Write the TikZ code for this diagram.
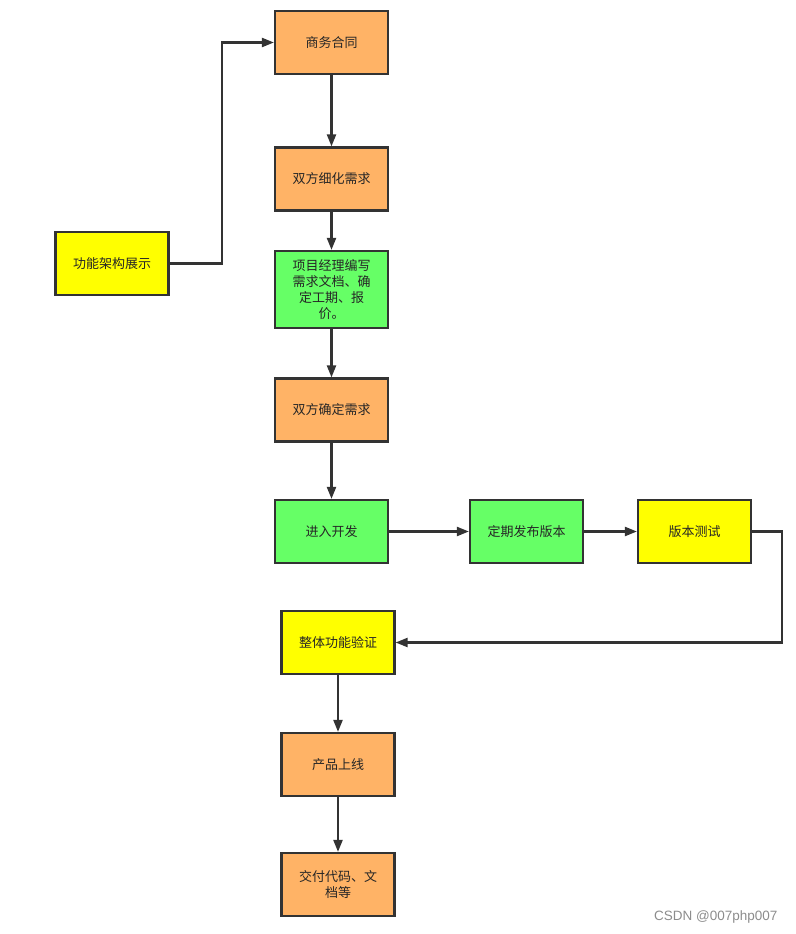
\documentclass[tikz,border=0pt]{standalone}
\usepackage{fontspec}
\newfontfamily\cjk{Noto Sans CJK SC}
\setmainfont{Liberation Sans}
\usetikzlibrary{arrows.meta}
\definecolor{orangebox}{HTML}{FFB366}
\definecolor{greenbox}{HTML}{66FF66}
\definecolor{yellowbox}{HTML}{FFFF00}
\definecolor{edgecol}{HTML}{333333}
\begin{document}
\begin{tikzpicture}[x=1pt,y=-1pt,
  boxbase/.style={draw=edgecol,line width=2.2pt,minimum width=113pt,minimum height=63pt,inner sep=0pt,align=center,font=\cjk\fontsize{13}{16}\selectfont,text=black!85},
  obox/.style={boxbase,fill=orangebox},
  gbox/.style={boxbase,fill=greenbox},
  ybox/.style={boxbase,fill=yellowbox},
  conn/.style={draw=edgecol,line width=2.2pt,-{Triangle[length=12pt,width=9pt]}}]
\useasboundingbox (0,0) rectangle (795,934);
\node[obox] (a) at (331.5,42.5) {商务合同};
\node[obox] (b) at (331.5,179) {双方细化需求};
\node[gbox,minimum height=77pt] (c) at (331.5,289.5) {项目经理编写\\需求文档、确\\定工期、报\\价。};
\node[obox] (d) at (331.5,410) {双方确定需求};
\node[gbox] (e) at (331.5,531.5) {进入开发};
\node[gbox] (f) at (526.5,531.5) {定期发布版本};
\node[ybox] (g) at (694.5,531.5) {版本测试};
\node[ybox] (h) at (338,642.5) {整体功能验证};
\node[obox] (i) at (338,764.5) {产品上线};
\node[obox] (j) at (338,884.5) {交付代码、文\\档等};
\node[ybox] (k) at (112,263.5) {功能架构展示};
\draw[conn] (k.east) -- (222,263.5) |- (a.west);
\draw[conn] (a) -- (b);
\draw[conn] (b) -- (c);
\draw[conn] (c) -- (d);
\draw[conn] (d) -- (e);
\draw[conn] (e) -- (f);
\draw[conn] (f) -- (g);
\draw[conn] (g.east) -- (782,531.5) |- (h.east);
\draw[conn] (h) -- (i);
\draw[conn] (i) -- (j);
\node[text=black!45,font=\fontsize{13.5}{15}\selectfont,anchor=east] (wm) at (781,917) {CSDN @007php007};
\end{tikzpicture}
\end{document}
